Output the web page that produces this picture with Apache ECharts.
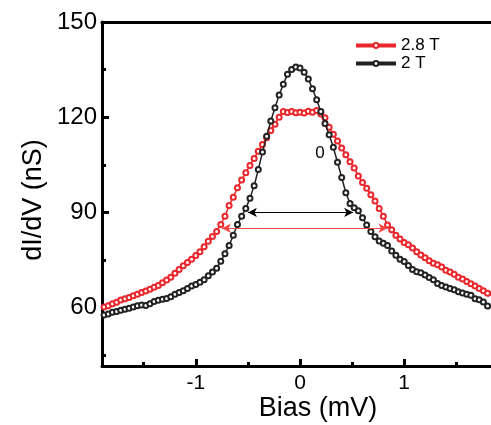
<!DOCTYPE html>
<html>
<head>
<meta charset="utf-8">
<script src="https://cdn.jsdelivr.net/npm/echarts@6/dist/echarts.min.js"></script>
<style>
html,body{margin:0;padding:0;background:#fff;}
#chart{width:491px;height:425px;}
</style>
</head>
<body>
<div id="chart"></div>
<script>
// Bias (mV) sample positions
const bias = [
  -1.88,-1.84,-1.80,-1.76,-1.72,-1.68,-1.64,-1.60,-1.56,-1.52,
  -1.48,-1.44,-1.40,-1.36,-1.32,-1.28,-1.24,-1.20,-1.16,-1.12,
  -1.08,-1.04,-1.00,-0.96,-0.92,-0.88,-0.84,-0.80,-0.76,-0.72,
  -0.68,-0.64,-0.60,-0.56,-0.52,-0.48,-0.44,-0.40,-0.36,-0.32,
  -0.28,-0.24,-0.20,-0.16,-0.12,-0.08,-0.04,
  0.00,0.04,0.08,0.12,0.16,0.20,0.24,0.28,0.32,0.36,
  0.40,0.44,0.48,0.52,0.56,0.60,0.64,0.68,0.72,0.76,
  0.80,0.84,0.88,0.92,0.96,1.00,1.04,1.08,1.12,1.16,
  1.20,1.24,1.28,1.32,1.36,1.40,1.44,1.48,1.52,1.56,
  1.60,1.64,1.68,1.72,1.76,1.80,1.84
];
// dI/dV (nS) at 2 T
const dIdV_2T = [
  57.7,58.0,58.5,58.8,59.2,59.5,59.8,60.2,60.6,60.8,
  60.7,61.2,61.9,62.3,62.6,62.9,63.4,64.2,64.8,65.3,
  66.0,66.8,67.3,68.0,68.8,70.0,71.2,72.4,74.6,77.0,
  79.6,82.8,86.2,88.8,91.2,94.5,98.4,103.5,109.0,114.0,
  118.8,123.0,127.0,130.4,133.5,135.0,135.8,
  135.5,134.2,132.0,129.0,125.5,121.8,118.0,114.5,110.5,105.8,
  101.0,96.2,92.8,91.5,90.5,88.3,86.0,84.0,82.3,81.0,
  80.3,79.6,77.8,76.5,75.2,74.5,73.3,72.0,71.3,71.0,
  70.3,69.5,68.8,67.6,67.0,66.5,66.0,65.6,65.0,64.6,
  64.2,63.9,62.8,62.5,61.8,60.5,60.3
];
// dI/dV (nS) at 2.8 T
const dIdV_28T = [
  60.2,60.6,61.2,61.7,62.4,62.8,63.2,63.7,64.2,64.8,
  65.2,65.8,66.4,67.0,67.8,68.7,69.6,70.8,72.0,73.2,
  74.2,75.2,76.4,77.6,79.2,80.9,82.4,84.0,86.2,88.8,
  92.2,94.8,97.8,100.2,102.5,104.8,107.0,109.3,111.4,113.5,
  115.8,117.8,120.0,121.8,121.5,121.8,121.4,
  121.6,121.3,121.9,121.6,122.1,121.0,119.8,116.8,114.6,112.5,
  110.3,108.2,106.0,104.0,101.5,99.4,97.6,95.6,93.6,91.2,
  88.8,86.0,84.5,82.8,81.6,80.5,79.8,78.8,77.6,76.6,
  75.7,74.8,74.0,73.5,72.8,71.8,71.2,70.5,69.6,69.0,
  68.2,67.5,66.8,66.0,65.3,64.5,63.8
];
const seriesNames = ['2.8 T', '2 T'];
// tick values
const xMajorTicks = [-1, 0, 1];
const xMinorTicks = [-1.5, -0.5, 0.5, 1.5];
const yMajorTicks = [60, 90, 120, 150];
const yMinorTicks = [45, 75, 105, 135];
// width arrows (bias endpoints, dI/dV level)
const arrow2T = [[-0.5, 90], [0.51, 90]];
const arrow28T = [[-0.75, 85], [0.84, 85]];
const annotationText = '0';

const FONT = 'Liberation Sans, Arial, sans-serif';
const chart = echarts.init(document.getElementById('chart'), null, {renderer: 'canvas'});

const X_MIN = -1.9, X_MAX = 1.833, Y_MIN = 41.6, Y_MAX = 150;

function zip(xs, ys) { return xs.map((x, i) => [x, ys[i]]); }

chart.setOption({
  animation: false,
  backgroundColor: '#fff',
  grid: {left: 102, top: 22, right: 0, height: 344, containLabel: false},
  xAxis: [
    {
      type: 'value', min: X_MIN, max: X_MAX, position: 'bottom', offset: 0,
      axisLine: {show: true, onZero: false, lineStyle: {color: '#000', width: 3}},
      axisTick: {show: true, inside: true, length: 7, customValues: xMajorTicks, lineStyle: {color: '#000', width: 3}},
      axisLabel: {show: true, customValues: xMajorTicks, margin: 7, fontSize: 21, color: '#000', fontFamily: FONT,
        formatter: v => String(v)},
      splitLine: {show: false}
    },
    {
      type: 'value', min: X_MIN, max: X_MAX, position: 'bottom', offset: 0,
      axisLine: {show: false, onZero: false},
      axisTick: {show: true, inside: true, length: 4, customValues: xMinorTicks, lineStyle: {color: '#000', width: 3}},
      axisLabel: {show: false},
      splitLine: {show: false}
    },
    {
      type: 'value', min: X_MIN, max: X_MAX, position: 'top', offset: 0,
      axisLine: {show: true, onZero: false, lineStyle: {color: '#000', width: 3}},
      axisTick: {show: false}, axisLabel: {show: false}, splitLine: {show: false}
    }
  ],
  yAxis: [
    {
      type: 'value', min: Y_MIN, max: Y_MAX, position: 'left', offset: 0,
      axisLine: {show: true, onZero: false, lineStyle: {color: '#000', width: 3}},
      axisTick: {show: true, inside: true, length: 7, customValues: yMajorTicks, lineStyle: {color: '#000', width: 3}},
      axisLabel: {show: true, customValues: yMajorTicks, margin: 5, fontSize: 24, color: '#000', fontFamily: FONT},
      splitLine: {show: false}
    },
    {
      type: 'value', min: Y_MIN, max: Y_MAX, position: 'left', offset: 0,
      axisLine: {show: false, onZero: false},
      axisTick: {show: true, inside: true, length: 4, customValues: yMinorTicks, lineStyle: {color: '#000', width: 3}},
      axisLabel: {show: false},
      splitLine: {show: false}
    }
  ],
  legend: {
    data: seriesNames,
    orient: 'vertical',
    left: 349, top: 32,
    itemWidth: 40, itemHeight: 6, itemGap: 1,
    textStyle: {fontSize: 17, color: '#000', fontFamily: FONT},
    lineStyle: {width: 4},
    itemStyle: {borderWidth: 1}
  },
  graphic: [
    {type: 'text', x: 318, y: 409, silent: true,
      style: {text: 'Bias (mV)', fontSize: 27, fontFamily: FONT, fill: '#000', align: 'center', verticalAlign: 'middle'}},
    {type: 'text', x: 34, y: 200, rotation: Math.PI / 2, silent: true,
      style: {text: 'dI/dV (nS)', fontSize: 27, fontFamily: FONT, fill: '#000', align: 'center', verticalAlign: 'middle'}},
    {type: 'text', x: 320, y: 153, silent: true,
      style: {text: annotationText, fontSize: 17, fontFamily: FONT, fill: '#000', align: 'center', verticalAlign: 'middle'}}
  ],
  series: [
    {
      name: seriesNames[0], type: 'line', xAxisIndex: 0, yAxisIndex: 0,
      data: zip(bias, dIdV_28T),
      symbol: 'emptyCircle', symbolSize: 5, showAllSymbol: true,
      itemStyle: {color: '#e8262b', borderWidth: 1.4},
      lineStyle: {color: '#e8262b', width: 1.5},
      emphasis: {disabled: true},
      markLine: {
        silent: true, symbol: ['arrow', 'arrow'], symbolSize: [7, 9],
        label: {show: false}, emphasis: {disabled: true},
        lineStyle: {color: '#f04848', width: 1, type: 'solid'},
        data: [[{coord: arrow28T[0]}, {coord: arrow28T[1]}]]
      },
      z: 2
    },
    {
      name: seriesNames[1], type: 'line', xAxisIndex: 0, yAxisIndex: 0,
      data: zip(bias, dIdV_2T),
      symbol: 'emptyCircle', symbolSize: 5, showAllSymbol: true,
      itemStyle: {color: '#222', borderWidth: 1.2},
      lineStyle: {color: '#222', width: 1.5},
      emphasis: {disabled: true},
      markLine: {
        silent: true, symbol: ['arrow', 'arrow'], symbolSize: [7, 9],
        label: {show: false}, emphasis: {disabled: true},
        lineStyle: {color: '#000', width: 1, type: 'solid'},
        data: [[{coord: arrow2T[0]}, {coord: arrow2T[1]}]]
      },
      z: 3
    }
  ]
});
</script>
</body>
</html>
